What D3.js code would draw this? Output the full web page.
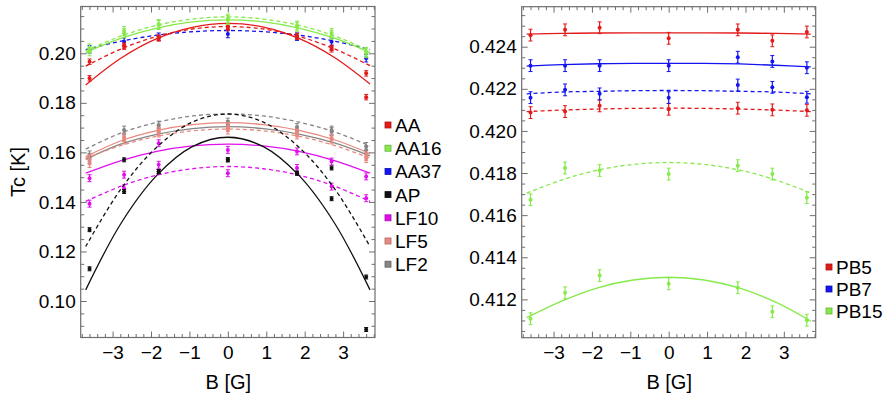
<!DOCTYPE html>
<html>
<head>
<meta charset="utf-8">
<script src="https://cdn.jsdelivr.net/npm/d3@7"></script>
<style>
  body { margin: 0; background: #fff; }
  text { font-family: "Liberation Sans", Arial, sans-serif; }
</style>
</head>
<body>
<svg id="chart" width="891" height="396"></svg>
<script>
// field values where Tc was measured, and where the fit curves were read
const fieldB = [-3.6, -2.7, -1.8, 0, 1.8, 2.7, 3.6];
const fitB = [-3.7, -2.775, -1.85, -0.925, 0, 0.925, 1.85, 2.775, 3.7];
const xTicks = [-3, -2, -1, 0, 1, 2, 3];

// left panel: measured points (solid-fit set / dashed-fit set)
const aaPts = [0.1899, 0.2027, 0.2060, 0.2107, 0.2067, 0.2016, 0.1823];
const aaDashPts = [0.1966, 0.2031, 0.2063, 0.2102, 0.2070, 0.2022, 0.1919];
const aa16Pts = [0.2020, 0.2081, 0.2114, 0.2134, 0.2107, 0.2074, 0.2006];
const aa16DashPts = [0.2008, 0.2090, 0.2118, 0.2140, 0.2112, 0.2082, 0.2000];
const aa37DashPts = [0.2016, 0.2047, 0.2067, 0.2078, 0.2067, 0.2047, 0.1980];
const apPts = [0.1130, 0.1570, 0.1523, 0.1570, 0.1516, 0.1537, 0.0885];
const apDashPts = [0.1288, 0.1442, 0.1523, 0.1570, 0.1516, 0.1413, 0.1097];
const lf10Pts = [0.1496, 0.1510, 0.1637, 0.1610, 0.1604, 0.1563, 0.1503];
const lf10DashPts = [0.1393, 0.1455, 0.1550, 0.1516, 0.1537, 0.1462, 0.1415];
const lf5Pts = [0.1555, 0.1660, 0.1684, 0.1700, 0.1678, 0.1657, 0.1583];
const lf5DashPts = [0.1570, 0.1650, 0.1678, 0.1690, 0.1670, 0.1650, 0.1575];
const lf2Pts = [0.1580, 0.1690, 0.1698, 0.1712, 0.1690, 0.1684, 0.1624];
const lf2DashPts = [0.1590, 0.1675, 0.1710, 0.1722, 0.1700, 0.1690, 0.1610];

// left panel: fit curves read at fitB
const aaFit = [0.1872, 0.1981, 0.2059, 0.2105, 0.2121, 0.2106, 0.2060, 0.1983, 0.1876];
const aaDashFit = [0.1948, 0.2018, 0.2068, 0.2098, 0.2108, 0.2098, 0.2068, 0.2018, 0.1950];
const aa16Fit = [0.2003, 0.2061, 0.2102, 0.2127, 0.2135, 0.2127, 0.2102, 0.2061, 0.2003];
const aa16DashFit = [0.2010, 0.2070, 0.2113, 0.2138, 0.2147, 0.2138, 0.2113, 0.2070, 0.2010];
const aa37DashFit = [0.2015, 0.2049, 0.2073, 0.2087, 0.2092, 0.2087, 0.2073, 0.2049, 0.2015];
const apFit = [0.1045, 0.1315, 0.1507, 0.1623, 0.1661, 0.1623, 0.1507, 0.1315, 0.1045];
const apDashFit = [0.1220, 0.1454, 0.1621, 0.1722, 0.1755, 0.1722, 0.1621, 0.1454, 0.1220];
const lf10Fit = [0.1516, 0.1567, 0.1604, 0.1626, 0.1633, 0.1626, 0.1604, 0.1567, 0.1516];
const lf10DashFit = [0.1402, 0.1464, 0.1508, 0.1534, 0.1543, 0.1534, 0.1508, 0.1464, 0.1402];
const lf5Fit = [0.1583, 0.1647, 0.1688, 0.1712, 0.1720, 0.1712, 0.1689, 0.1651, 0.1595];
const lf5DashFit = [0.1577, 0.1628, 0.1665, 0.1687, 0.1694, 0.1687, 0.1665, 0.1628, 0.1577];
const lf2Fit = [0.1572, 0.1634, 0.1673, 0.1696, 0.1704, 0.1696, 0.1674, 0.1638, 0.1586];
const lf2DashFit = [0.1613, 0.1679, 0.1721, 0.1747, 0.1755, 0.1747, 0.1722, 0.1683, 0.1626];

// right panel: measured points
const pb5Pts = [0.42455, 0.4248, 0.4249, 0.4244, 0.4248, 0.42428, 0.4247];
const pb5DashPts = [0.42087, 0.42092, 0.42119, 0.42103, 0.42108, 0.42100, 0.42098];
const pb7Pts = [0.4231, 0.4231, 0.4231, 0.4231, 0.4235, 0.4233, 0.4230];
const pb7DashPts = [0.42158, 0.42195, 0.42176, 0.42158, 0.42218, 0.42207, 0.4216];
const pb15Pts = [0.41108, 0.41231, 0.41313, 0.41274, 0.41255, 0.41141, 0.41101];
const pb15DashPts = [0.41673, 0.41824, 0.41812, 0.41795, 0.41835, 0.41795, 0.41683];

// right panel: fit curves read at fitB
const pb5Fit = [0.42460, 0.42463, 0.42465, 0.42466, 0.42466, 0.42466, 0.42465, 0.42463, 0.42460];
const pb5DashFit = [0.42092, 0.42099, 0.42104, 0.42107, 0.42108, 0.42107, 0.42104, 0.42099, 0.42092];
const pb7Fit = [0.42308, 0.42315, 0.42319, 0.42321, 0.42321, 0.42321, 0.42318, 0.42312, 0.42304];
const pb7DashFit = [0.42176, 0.42185, 0.42188, 0.42191, 0.42192, 0.42191, 0.42188, 0.42185, 0.42176];
const pb15Fit = [0.41113, 0.41193, 0.41255, 0.41292, 0.41305, 0.41292, 0.41253, 0.41188, 0.41097];
const pb15DashFit = [0.41705, 0.41768, 0.41814, 0.41841, 0.41850, 0.41841, 0.41814, 0.41768, 0.41705];

const leftYTicks = [0.10, 0.12, 0.14, 0.16, 0.18, 0.20];
const rightYTicks = [0.412, 0.414, 0.416, 0.418, 0.420, 0.422, 0.424];

const leftNames = ['AA', 'AA16', 'AA37', 'AP', 'LF10', 'LF5', 'LF2'];
const leftColors = ['#e31a1a', '#86ea4a', '#1414f0', '#111111', '#e010ee', '#e8897f', '#858585'];
const rightNames = ['PB5', 'PB7', 'PB15'];
const rightColors = ['#e31a1a', '#1414f0', '#86ea4a'];

// series tables (drawn back to front)
const leftSeries = [
  { c: 6, pts: lf2Pts, fit: lf2Fit, dash: false, err: 0.0016 },
  { c: 6, pts: lf2DashPts, fit: lf2DashFit, dash: true, err: 0.0016 },
  { c: 5, pts: lf5Pts, fit: lf5Fit, dash: false, err: 0.0016 },
  { c: 5, pts: lf5DashPts, fit: lf5DashFit, dash: true, err: 0.0016 },
  { c: 4, pts: lf10Pts, fit: lf10Fit, dash: false, err: 0.0014 },
  { c: 4, pts: lf10DashPts, fit: lf10DashFit, dash: true, err: 0.0014 },
  { c: 3, pts: apPts, fit: apFit, dash: false, err: 0.0008 },
  { c: 3, pts: apDashPts, fit: apDashFit, dash: true, err: 0.0008 },
  { c: 2, pts: aa37DashPts, fit: aa37DashFit, dash: true, err: 0.0015 },
  { c: 0, pts: aaPts, fit: aaFit, dash: false, err: 0.0011 },
  { c: 0, pts: aaDashPts, fit: aaDashFit, dash: true, err: 0.0011 },
  { c: 1, pts: aa16Pts, fit: aa16Fit, dash: false, err: 0.0018 },
  { c: 1, pts: aa16DashPts, fit: aa16DashFit, dash: true, err: 0.0018 }
];
const rightSeries = [
  { c: 0, pts: pb5Pts, fit: pb5Fit, dash: false, err: 0.00028 },
  { c: 0, pts: pb5DashPts, fit: pb5DashFit, dash: true, err: 0.00028 },
  { c: 1, pts: pb7Pts, fit: pb7Fit, dash: false, err: 0.00028 },
  { c: 1, pts: pb7DashPts, fit: pb7DashFit, dash: true, err: 0.00028 },
  { c: 2, pts: pb15Pts, fit: pb15Fit, dash: false, err: 0.00028 },
  { c: 2, pts: pb15DashPts, fit: pb15DashFit, dash: true, err: 0.00028 }
];

const svg = d3.select('#chart');
const frameColor = '#6e6e6e';

function drawPanel(p) {
  const x = d3.scaleLinear().domain([-3.83, 3.83]).range([p.left, p.right]);
  const y = d3.scaleLinear().domain(p.yDomain).range([p.bottom, p.top]);
  const g = svg.append('g');

  // clip so the curves stay inside the frame
  const clipId = 'clip' + p.left;
  svg.append('clipPath').attr('id', clipId)
    .append('rect')
    .attr('x', p.left).attr('y', p.top)
    .attr('width', p.right - p.left).attr('height', p.bottom - p.top);

  const plot = g.append('g').attr('clip-path', `url(#${clipId})`);
  const line = d3.line()
    .x((d, i) => x(fitB[i]))
    .y(d => y(d))
    .curve(d3.curveCatmullRom);

  p.series.forEach(s => {
    const col = p.colors[s.c];
    plot.append('path')
      .attr('d', line(s.fit))
      .attr('fill', 'none')
      .attr('stroke', col)
      .attr('stroke-width', 1.3)
      .attr('stroke-dasharray', s.dash ? '4,3' : null);

    const pt = plot.append('g').selectAll('g')
      .data(s.pts)
      .enter()
      .append('g')
      .attr('stroke', col)
      .attr('fill', col);
    pt.append('line')
      .attr('x1', (d, i) => x(fieldB[i])).attr('x2', (d, i) => x(fieldB[i]))
      .attr('y1', d => y(d - s.err)).attr('y2', d => y(d + s.err))
      .attr('stroke-width', 1.2);
    [-1, 1].forEach(k => {
      pt.append('line')
        .attr('x1', (d, i) => x(fieldB[i]) - 2).attr('x2', (d, i) => x(fieldB[i]) + 2)
        .attr('y1', d => y(d + k * s.err)).attr('y2', d => y(d + k * s.err))
        .attr('stroke-width', 1);
    });
    pt.append('circle')
      .attr('cx', (d, i) => x(fieldB[i]))
      .attr('cy', d => y(d))
      .attr('r', 2)
      .attr('stroke', 'none');
  });

  // frame
  g.append('rect')
    .attr('x', p.left).attr('y', p.top)
    .attr('width', p.right - p.left).attr('height', p.bottom - p.top)
    .attr('fill', 'none')
    .attr('stroke', frameColor)
    .attr('stroke-width', 1.2);

  const xMinor = d3.range(-3.8, 3.81, 0.2).map(v => +v.toFixed(1)).filter(v => !xTicks.includes(v));
  const yMinor = d3.range(p.yTicks[0] - 4 * p.yStep, p.yDomain[1], p.yStep)
    .filter(v => v > p.yDomain[0] && Math.abs((v - p.yTicks[0]) / (p.yStep * 4) - Math.round((v - p.yTicks[0]) / (p.yStep * 4))) > 0.01);

  const axes = [
    { gen: d3.axisBottom(x), tr: `translate(0,${p.bottom})`, major: xTicks, minor: xMinor, labels: true },
    { gen: d3.axisTop(x), tr: `translate(0,${p.top})`, major: xTicks, minor: xMinor, labels: false },
    { gen: d3.axisLeft(y), tr: `translate(${p.left},0)`, major: p.yTicks, minor: yMinor, labels: true },
    { gen: d3.axisRight(y), tr: `translate(${p.right},0)`, major: p.yTicks, minor: yMinor, labels: false }
  ];
  axes.forEach(a => {
    const isX = a.major === xTicks;
    const fmt = isX ? d3.format('d') : d3.format(p.yFormat);
    const ax = g.append('g')
      .attr('transform', a.tr)
      .call(a.gen.tickValues(a.major).tickSizeInner(-6).tickSizeOuter(0)
        .tickPadding(isX ? 8 : 5)
        .tickFormat(a.labels ? fmt : ''));
    ax.select('.domain').remove();
    ax.selectAll('.tick line').attr('stroke', frameColor);
    ax.selectAll('.tick text').attr('fill', '#000').style('font-size', '19px')
      .style('font-family', '"Liberation Sans", Arial, sans-serif');
    const mn = g.append('g')
      .attr('transform', a.tr)
      .call(a.gen.tickValues(a.minor).tickSizeInner(-3.5).tickSizeOuter(0).tickFormat(''));
    mn.select('.domain').remove();
    mn.selectAll('.tick line').attr('stroke', frameColor);
  });

  // x title
  g.append('text')
    .attr('x', (p.left + p.right) / 2 + 0.5)
    .attr('y', 389)
    .attr('text-anchor', 'middle')
    .style('font-size', '20px')
    .text('B [G]');

  // legend
  p.names.forEach((n, i) => {
    const ly = p.legendY + i * p.legendStep;
    const col = d3.color(p.colors[i]);
    g.append('rect')
      .attr('x', p.legendX).attr('y', ly - 3)
      .attr('width', 6).attr('height', 6)
      .attr('fill', col)
      .attr('stroke', col.darker(0.8))
      .attr('stroke-width', 0.8);
    g.append('text')
      .attr('x', p.legendX + 10)
      .attr('y', ly + 7)
      .style('font-size', '19px')
      .text(n);
  });
}

drawPanel({
  left: 80.7, right: 375, top: 6.5, bottom: 337.5,
  yDomain: [0.08527, 0.21889], yTicks: leftYTicks, yStep: 0.005, yFormat: '.2f',
  series: leftSeries, names: leftNames, colors: leftColors,
  legendX: 385, legendY: 125, legendStep: 23.2
});

drawPanel({
  left: 521.7, right: 815.7, top: 6.7, bottom: 337.7,
  yDomain: [0.41018, 0.4259], yTicks: rightYTicks, yStep: 0.0005, yFormat: '.3f',
  series: rightSeries, names: rightNames, colors: rightColors,
  legendX: 826, legendY: 267, legendStep: 22
});

// y title
svg.append('text')
  .attr('transform', 'translate(25,172) rotate(-90)')
  .attr('text-anchor', 'middle')
  .style('font-size', '20px')
  .text('Tc [K]');
</script>
</body>
</html>
